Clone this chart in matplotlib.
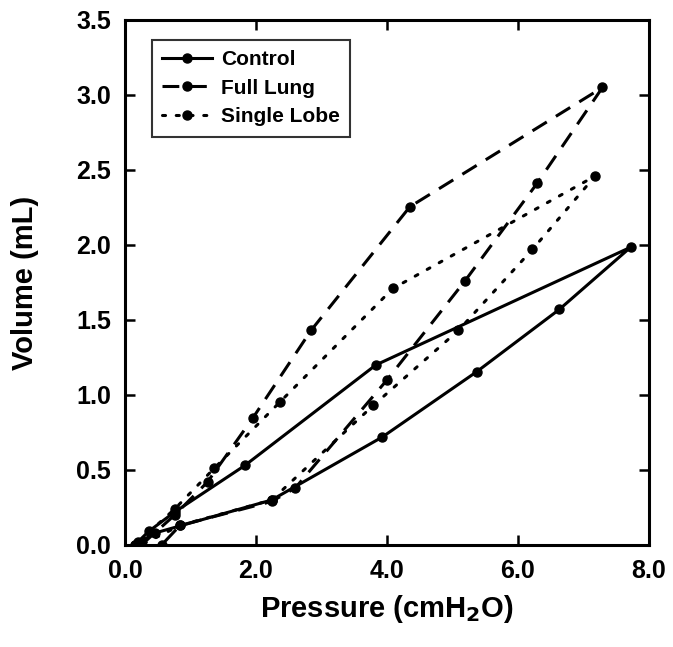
import matplotlib
matplotlib.use("Agg")
import matplotlib.pyplot as plt

plt.rcParams['font.family'] = ['Liberation Sans', 'DejaVu Sans']
plt.rcParams['font.weight'] = 'bold'

# pressure (cmH2O) / volume (mL), inflation then deflation
control_p = [0.15, 0.36, 0.76, 1.83, 3.83, 7.72, 6.63, 5.37, 3.93, 2.24, 0.46, 0.15]
control_v = [0.00, 0.09, 0.22, 0.53, 1.20, 1.985, 1.57, 1.155, 0.72, 0.30, 0.08, 0.00]

full_p = [0.25, 0.76, 1.26, 1.95, 2.84, 4.35, 7.29, 6.29, 5.19, 4.00, 2.60, 2.24, 0.84, 0.56]
full_v = [0.00, 0.20, 0.42, 0.845, 1.43, 2.255, 3.05, 2.41, 1.76, 1.10, 0.38, 0.29, 0.13, 0.00]

lobe_p = [0.20, 0.76, 1.36, 2.37, 4.09, 7.18, 6.22, 5.09, 3.79, 2.24, 0.84, 0.25]
lobe_v = [0.02, 0.24, 0.51, 0.955, 1.71, 2.46, 1.97, 1.43, 0.93, 0.30, 0.13, 0.00]

xticks = [0, 2, 4, 6, 8]
yticks = [0, 0.5, 1.0, 1.5, 2.0, 2.5, 3.0, 3.5]

fig = plt.figure(figsize=(6.73, 6.47), dpi=100)
ax = fig.add_axes([0.1857, 0.1577, 0.7786, 0.8114])

lw = 2.2
ms = 6.5
ax.plot(control_p, control_v, '-', color='black', lw=lw, marker='o', ms=ms, label='Control')
ax.plot(full_p, full_v, color='black', lw=lw, marker='o', ms=ms, dashes=(5.5, 3.5), label='Full Lung')
ax.plot(lobe_p, lobe_v, color='black', lw=lw, marker='o', ms=ms, dashes=(1.0, 3.5),
        dash_capstyle='round', label='Single Lobe')

ax.set_xlim(0, 8)
ax.set_ylim(0, 3.5)
ax.set_xticks(xticks)
ax.set_yticks(yticks)
ax.set_xticklabels([f"{t:.1f}" for t in xticks])
ax.set_yticklabels([f"{t:.1f}" for t in yticks])
ax.tick_params(direction='in', length=7, width=1.8, labelsize=18, top=True, right=True, pad=10)
for s in ax.spines.values():
    s.set_linewidth(2.2)

ax.set_xlabel('Pressure (cmH$_\\mathbf{2}$O)', fontsize=21, fontweight='bold', labelpad=7)
ax.set_ylabel('Volume (mL)', fontsize=21, fontweight='bold', labelpad=27)

leg = ax.legend(loc='upper left', bbox_to_anchor=(0.0515, 0.962), borderaxespad=0,
                fontsize=15, frameon=True, fancybox=False, edgecolor='black',
                handlelength=2.4, handletextpad=0.4, borderpad=0.5, labelspacing=0.45)
leg.get_frame().set_linewidth(1.5)
for t in leg.get_texts():
    t.set_fontweight('bold')

fig.savefig('out.png', dpi=100)
